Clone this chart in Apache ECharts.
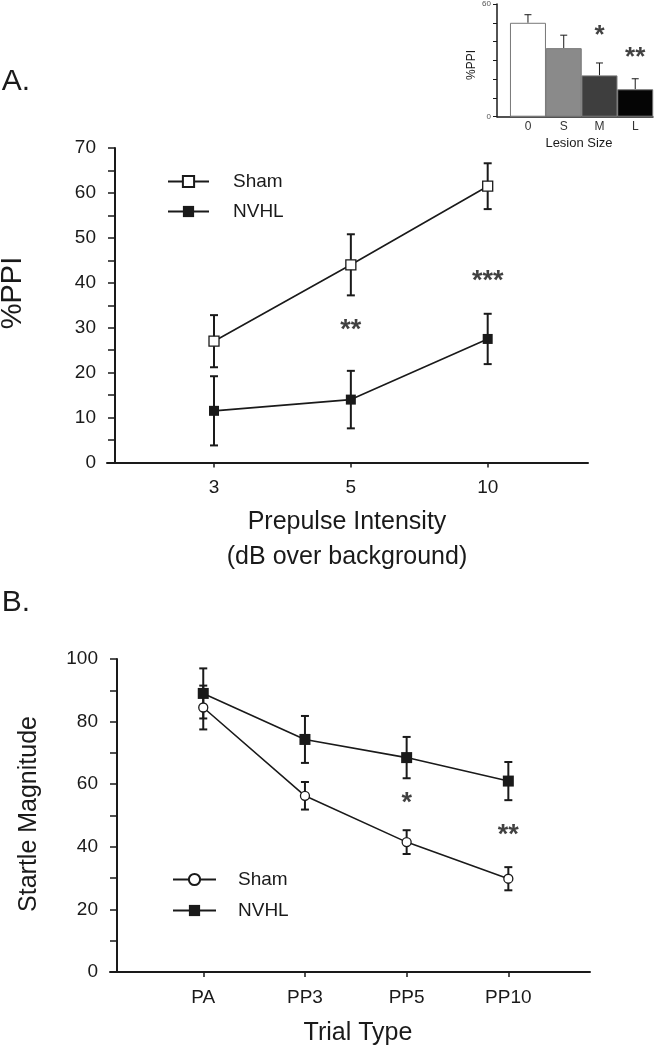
<!DOCTYPE html>
<html>
<head>
<meta charset="utf-8">
<title>PPI and startle</title>
<script src="https://cdn.jsdelivr.net/npm/echarts@6/dist/echarts.min.js"></script>
<style>
html, body { margin: 0; padding: 0; background: #fff; }
#chartA { width: 657px; height: 575px; }
#chartB { width: 657px; height: 474px; }
</style>
</head>
<body>
<div id="chartA"></div>
<div id="chartB"></div>
<script>
// panel A: %PPI by prepulse intensity
const intensityLabels = ['3', '5', '10'];
const shamPPI = [27, 44, 61.5];
const shamPPIErr = [5.8, 6.8, 5.1];
const nvhlPPI = [11.5, 14, 27.5];
const nvhlPPIErr = [7.7, 6.4, 5.6];
const starsA = [[2, 30, '**'], [3, 41, '***']];

// inset: %PPI by lesion size
const lesionSizes = ['0', 'S', 'M', 'L'];
const lesionPPI = [50, 36.5, 22, 14.6];
const lesionErr = [4.3, 6.9, 6.6, 5.6];
const starsInset = [[3, 44.5, '*'], [4, 32.8, '**']];

// panel B: startle magnitude by trial type
const trialTypes = ['PA', 'PP3', 'PP5', 'PP10'];
const shamStartle = [84.5, 56.3, 41.5, 29.8];
const shamStartleErr = [7, 4.4, 3.8, 3.7];
const nvhlStartle = [89, 74.3, 68.5, 61];
const nvhlStartleErr = [8, 7.5, 6.6, 6.1];
const starsB = [[3, 55, '*'], [4, 44.5, '**']];

const lesionColors = ['#ffffff', '#8a8a8a', '#3e3e3e', '#050505'];
const FONT = 'Liberation Sans, Arial, sans-serif';
const INK = '#1a1a1a';

function pts(vals) {
    return vals.map((v, i) => [i + 1, v]);
}

function errSeries(vals, errs, axis, capW, lw, upOnly) {
    return {
        type: 'custom',
        xAxisIndex: axis,
        yAxisIndex: axis,
        silent: true,
        z: 1,
        data: vals.map((v, i) => [i + 1, v, errs[i]]),
        renderItem: function (params, api) {
            const x = api.value(0), m = api.value(1), e = api.value(2);
            const top = api.coord([x, m + e]);
            const bot = api.coord([x, upOnly ? m : m - e]);
            const h = capW / 2;
            const st = { stroke: INK, lineWidth: lw };
            const kids = [
                { type: 'line', shape: { x1: top[0], y1: top[1], x2: bot[0], y2: bot[1] }, style: st },
                { type: 'line', shape: { x1: top[0] - h, y1: top[1], x2: top[0] + h, y2: top[1] }, style: st }
            ];
            if (!upOnly) {
                kids.push({ type: 'line', shape: { x1: bot[0] - h, y1: bot[1], x2: bot[0] + h, y2: bot[1] }, style: st });
            }
            return { type: 'group', children: kids };
        }
    };
}

function starSeries(stars, axis, size) {
    return {
        type: 'scatter',
        xAxisIndex: axis,
        yAxisIndex: axis,
        silent: true,
        symbolSize: 0,
        data: stars,
        label: {
            show: true,
            position: 'inside',
            formatter: p => p.value[2],
            fontSize: size,
            fontWeight: 'bold',
            color: '#111',
            offset: [0, size * 0.12]
        }
    };
}

function title(text, x, y, size, rot) {
    return {
        type: 'text', x: x, y: y, rotation: rot ? Math.PI / 2 : 0,
        style: { text: text, x: 0, y: 0, font: size + 'px ' + FONT, fill: INK, align: 'center', verticalAlign: 'middle' }
    };
}

function lineAxisY(gi, max, interval, offset) {
    return {
        gridIndex: gi, type: 'value', min: 0, max: max, interval: interval, offset: offset,
        axisLine: { show: true, lineStyle: { color: INK, width: 2 } },
        axisTick: { show: true, length: 7, lineStyle: { color: INK, width: 1.5 } },
        minorTick: { show: true, splitNumber: 2, length: 7, lineStyle: { color: INK, width: 1.5 } },
        axisLabel: { fontSize: 19, color: INK, margin: 19 },
        splitLine: { show: false }
    };
}

function lineAxisX(gi, min, max, labels) {
    const ticks = labels.map((l, i) => i + 1);
    return {
        gridIndex: gi, type: 'value', min: min, max: max,
        axisLine: { show: true, onZero: false, lineStyle: { color: INK, width: 2 } },
        axisTick: { show: true, customValues: ticks, length: 5, lineStyle: { color: INK, width: 1.5 } },
        axisLabel: { customValues: ticks, formatter: v => labels[Math.round(v) - 1], fontSize: 19, color: INK, margin: 16 },
        splitLine: { show: false }
    };
}

function groupSeries(name, vals, axis, symbol, size, filled) {
    return {
        name: name,
        type: 'line',
        xAxisIndex: axis,
        yAxisIndex: axis,
        data: pts(vals),
        symbol: symbol,
        symbolSize: size,
        z: 3,
        lineStyle: { color: INK, width: 1.6 },
        itemStyle: { color: filled ? INK : '#fff', borderColor: INK, borderWidth: filled ? 0 : 1.3 }
    };
}

let chartA = echarts.init(document.getElementById('chartA'));
chartA.setOption({
    animation: false,
    textStyle: { fontFamily: FONT },
    grid: [
        { left: 107, top: 148, width: 481, height: 314.5, outerBoundsMode: 'none', containLabel: false },
        { left: 497, top: 4, width: 156, height: 112.7, outerBoundsMode: 'none', containLabel: false }
    ],
    xAxis: [
        lineAxisX(0, 0.218, 3.733, intensityLabels),
        {
            gridIndex: 1, type: 'value', min: 0.134, max: 4.497,
            axisLine: { show: true, onZero: false, lineStyle: { color: INK, width: 1.5 } },
            axisTick: { show: false },
            axisLabel: { customValues: [1, 2, 3, 4], formatter: v => lesionSizes[Math.round(v) - 1], fontSize: 12, color: '#333', margin: 4 },
            splitLine: { show: false }
        }
    ],
    yAxis: [
        lineAxisY(0, 70, 10, -8),
        {
            gridIndex: 1, type: 'value', min: 0, max: 60, interval: 10,
            axisLine: { show: true, lineStyle: { color: INK, width: 1.5 } },
            axisTick: { show: true, length: 4, lineStyle: { color: INK, width: 1 } },
            axisLabel: { customValues: [0, 60], fontSize: 8, color: '#555', margin: 6 },
            splitLine: { show: false }
        }
    ],
    legend: {
        orient: 'vertical', left: 162, top: 167, itemWidth: 41, itemHeight: 14, itemGap: 11,
        selectedMode: false, data: ['Sham', 'NVHL'],
        textStyle: { fontSize: 19, color: INK, padding: [0, 0, 0, 19] }
    },
    graphic: [
        title('A.', 16, 82, 30),
        title('%PPI', 13, 293, 29, true),
        title('Prepulse Intensity', 347, 522, 25),
        title('(dB over background)', 347, 557, 25),
        title('%PPI', 472, 65, 12, true),
        title('Lesion Size', 579, 143, 13)
    ],
    series: [
        errSeries(shamPPI, shamPPIErr, 0, 8, 2, false),
        errSeries(nvhlPPI, nvhlPPIErr, 0, 8, 2, false),
        groupSeries('Sham', shamPPI, 0, 'rect', 10, false),
        groupSeries('NVHL', nvhlPPI, 0, 'rect', 10, true),
        starSeries(starsA, 0, 27),
        errSeries(lesionPPI, lesionErr, 1, 7, 1, true),
        {
            type: 'bar', xAxisIndex: 1, yAxisIndex: 1, barWidth: 36, z: 2,
            data: lesionPPI.map((v, i) => ({ value: [i + 1, v], itemStyle: { color: lesionColors[i] } })),
            itemStyle: { borderColor: '#777', borderWidth: 1 }
        },
        starSeries(starsInset, 1, 26)
    ]
});

let chartB = echarts.init(document.getElementById('chartB'));
chartB.setOption({
    animation: false,
    textStyle: { fontFamily: FONT },
    grid: [
        { left: 110, top: 84, width: 480, height: 313, outerBoundsMode: 'none', containLabel: false }
    ],
    xAxis: [lineAxisX(0, 0.083, 4.803, trialTypes)],
    yAxis: [lineAxisY(0, 100, 20, -7)],
    legend: {
        orient: 'vertical', left: 167, top: 290, itemWidth: 43, itemHeight: 14, itemGap: 12,
        selectedMode: false, data: ['Sham', 'NVHL'],
        textStyle: { fontSize: 19, color: INK, padding: [0, 0, 0, 17] }
    },
    graphic: [
        title('B.', 16, 28, 30),
        title('Startle Magnitude', 29, 239, 25, true),
        title('Trial Type', 358, 458, 25)
    ],
    series: [
        errSeries(shamStartle, shamStartleErr, 0, 8, 2, false),
        errSeries(nvhlStartle, nvhlStartleErr, 0, 8, 2, false),
        groupSeries('Sham', shamStartle, 0, 'circle', 9, false),
        groupSeries('NVHL', nvhlStartle, 0, 'rect', 11, true),
        starSeries(starsB, 0, 27)
    ]
});
</script>
</body>
</html>
